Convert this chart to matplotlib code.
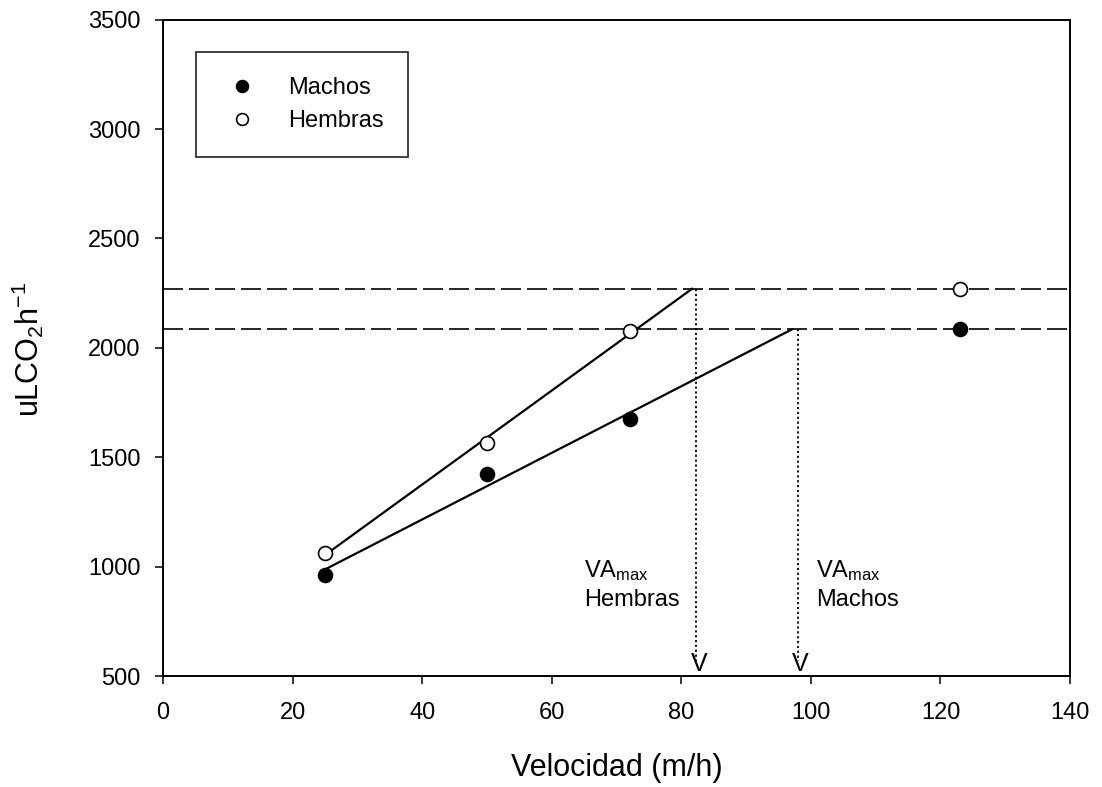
import numpy as np
import matplotlib
matplotlib.use("Agg")
import matplotlib.pyplot as plt

plt.rcParams['font.family'] = ['Liberation Sans', 'DejaVu Sans']
plt.rcParams['mathtext.default'] = 'regular'

# Data
velocidad = [25, 50, 72]
machos = [962, 1422, 1674]
hembras = [1064, 1567, 2075]
vel_plateau = 123
machos_plateau = 2085
hembras_plateau = 2270
vamax_hembras = 82.3
vamax_machos = 98.0

fig = plt.figure(figsize=(11.02, 7.87), dpi=100)
ax = fig.add_axes([0.148, 0.141, 0.823, 0.834])

# horizontal dashed plateau lines
ax.axhline(hembras_plateau, color='black', lw=1.2, ls=(0, (12, 3.6)), zorder=1)
ax.axhline(machos_plateau, color='black', lw=1.2, ls=(0, (12, 3.6)), zorder=1)

# regression lines
xh = np.array(velocidad, float)
ph = np.polyfit(xh, hembras, 1)
pm = np.polyfit(xh, machos, 1)
xe_h = (hembras_plateau - ph[1]) / ph[0]
xe_m = (machos_plateau - pm[1]) / pm[0]
ax.plot([velocidad[0], xe_h], np.polyval(ph, [velocidad[0], xe_h]), color='black', lw=1.6, zorder=2)
ax.plot([velocidad[0], xe_m], np.polyval(pm, [velocidad[0], xe_m]), color='black', lw=1.6, zorder=2)

# points
ax.plot(velocidad + [vel_plateau], machos + [machos_plateau], 'o', ms=10,
        mfc='black', mec='black', mew=1.2, ls='none', label='Machos', zorder=3)
ax.plot(velocidad + [vel_plateau], hembras + [hembras_plateau], 'o', ms=10,
        mfc='white', mec='black', mew=1.2, ls='none', label='Hembras', zorder=3)

# vertical dotted lines with V heads
for xv, yt in [(vamax_hembras, hembras_plateau), (vamax_machos, machos_plateau)]:
    ax.plot([xv, xv], [yt, 570], color='black', lw=1.3, ls=(0, (1.2, 1.5)), zorder=1)
    ax.text(xv + 0.4, 502, 'V', ha='center', va='bottom', fontsize=18)

ax.text(65.0, 980, 'VA$_{max}$', fontsize=17, ha='left', va='center')
ax.text(65.0, 848, 'Hembras', fontsize=17, ha='left', va='center')
ax.text(100.8, 980, 'VA$_{max}$', fontsize=17, ha='left', va='center')
ax.text(100.8, 848, 'Machos', fontsize=17, ha='left', va='center')

ax.set_xlim(0, 140)
ax.set_ylim(500, 3500)
ax.set_xticks(range(0, 141, 20))
ax.set_yticks(range(500, 3501, 500))
ax.tick_params(direction='out', length=6, width=1.1, labelsize=17)
ax.tick_params(axis='y', pad=10)
ax.tick_params(axis='x', pad=13)
for s in ax.spines.values():
    s.set_linewidth(1.4)

ax.set_xlabel('Velocidad (m/h)', fontsize=22)
ax.xaxis.set_label_coords(0.5, -0.118)
ax.xaxis.label.set_va('top')
ax.set_ylabel('uLCO$_2$h$^{-1}$', fontsize=22)
ax.yaxis.set_label_coords(-0.149, 0.497)
ax.yaxis.label.set_va('center')

leg = ax.legend(loc='upper left', bbox_to_anchor=(0.036, 0.950), fontsize=17,
                frameon=True, fancybox=False, edgecolor='black', handletextpad=1.05,
                borderpad=1.05, labelspacing=0.45, handlelength=1.8, markerscale=0.85,
                borderaxespad=0)
leg.get_frame().set_linewidth(1.3)

fig.savefig('out.png', dpi=100, facecolor='white')
